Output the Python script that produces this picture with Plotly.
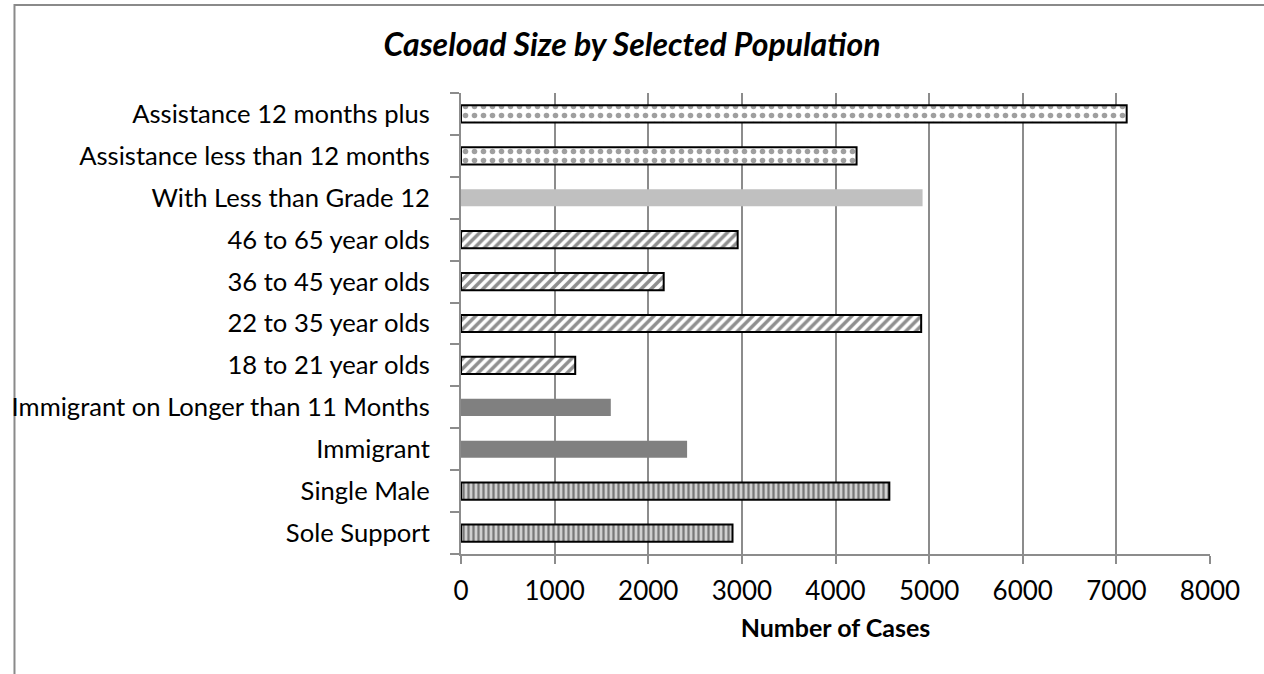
import plotly.graph_objects as go

# categories listed bottom to top, as drawn
categories = [
    "Sole Support",
    "Single Male",
    "Immigrant",
    "Immigrant on Longer than 11 Months",
    "18 to 21 year olds",
    "22 to 35 year olds",
    "36 to 45 year olds",
    "46 to 65 year olds",
    "With Less than Grade 12",
    "Assistance less than 12 months",
    "Assistance 12 months plus",
]
cases = [2900, 4575, 2415, 1600, 1220, 4915, 2165, 2955, 4930, 4225, 7110]

x_ticks = [0, 1000, 2000, 3000, 4000, 5000, 6000, 7000, 8000]

# groups share one bar style
groups = [
    (["Sole Support", "Single Male"], dict(color="white", line=dict(color="black", width=2),
        pattern=dict(shape="|", fgcolor="#202020", bgcolor="#d0d0d0", size=5, solidity=0.45))),
    (["Immigrant", "Immigrant on Longer than 11 Months"], dict(color="#808080", line=dict(width=0))),
    (["18 to 21 year olds", "22 to 35 year olds", "36 to 45 year olds", "46 to 65 year olds"],
     dict(color="white", line=dict(color="black", width=2),
          pattern=dict(shape="/", fgcolor="#202020", bgcolor="white", size=7, solidity=0.5))),
    (["With Less than Grade 12"], dict(color="#c0c0c0", line=dict(width=0))),
    (["Assistance less than 12 months", "Assistance 12 months plus"],
     dict(color="white", line=dict(color="black", width=2),
          pattern=dict(shape=".", fgcolor="#404040", bgcolor="white", size=9, solidity=0.3))),
]

value_of = dict(zip(categories, cases))

fig = go.Figure()
for names, marker in groups:
    fig.add_trace(go.Bar(
        y=names,
        x=[value_of[n] for n in names],
        orientation="h",
        marker=marker,
        width=0.41,
        showlegend=False,
    ))

fig.update_layout(
    width=1264,
    height=674,
    barmode="overlay",
    plot_bgcolor="white",
    paper_bgcolor="white",
    margin=dict(l=456, r=54, t=93, b=120),
    font=dict(family="Lato", size=24, color="black"),
    title=dict(
        text="<b><i>Caseload Size by Selected Population</i></b>",
        x=0.5, xref="container", xanchor="center",
        y=1 - 45 / 674, yanchor="middle",
        font=dict(size=32),
    ),
    xaxis=dict(
        range=[0, 8000],
        tickvals=x_ticks,
        ticktext=[str(t) for t in x_ticks],
        tickfont=dict(size=26),
        showgrid=True, gridcolor="#8c8c8c", gridwidth=2,
        showline=True, linecolor="#8c8c8c", linewidth=2,
        ticks="outside", ticklen=8, tickcolor="#8c8c8c", tickwidth=2,
        ticklabelstandoff=5,
        zeroline=False,
        title=dict(text="<b>Number of Cases</b>", standoff=14, font=dict(size=25)),
        fixedrange=True,
    ),
    yaxis=dict(
        categoryorder="array", categoryarray=categories,
        range=[-0.5, len(categories) - 0.5],
        tickfont=dict(size=25.6),
        showline=True, linecolor="#8c8c8c", linewidth=2,
        ticks="outside", ticklen=9, tickcolor="#8c8c8c", tickwidth=2,
        tickson="boundaries",
        showgrid=False,
        ticklabelstandoff=24,
        fixedrange=True,
    ),
)

# outer chart frame (runs off the right and bottom edges)
fig.add_shape(type="rect", xref="paper", yref="paper",
              x0=(6.5 - 456) / 754, x1=(1275 - 456) / 754,
              y0=(554 - 690) / 461, y1=(554 - 5) / 461,
              line=dict(color="#8a8a8a", width=2), fillcolor="rgba(0,0,0,0)", layer="below")

# drop the default page margin so the figure sits at the window corner
fig.write_html("out.html", config={"displayModeBar": False},
               post_script="document.body.style.margin='0';")
